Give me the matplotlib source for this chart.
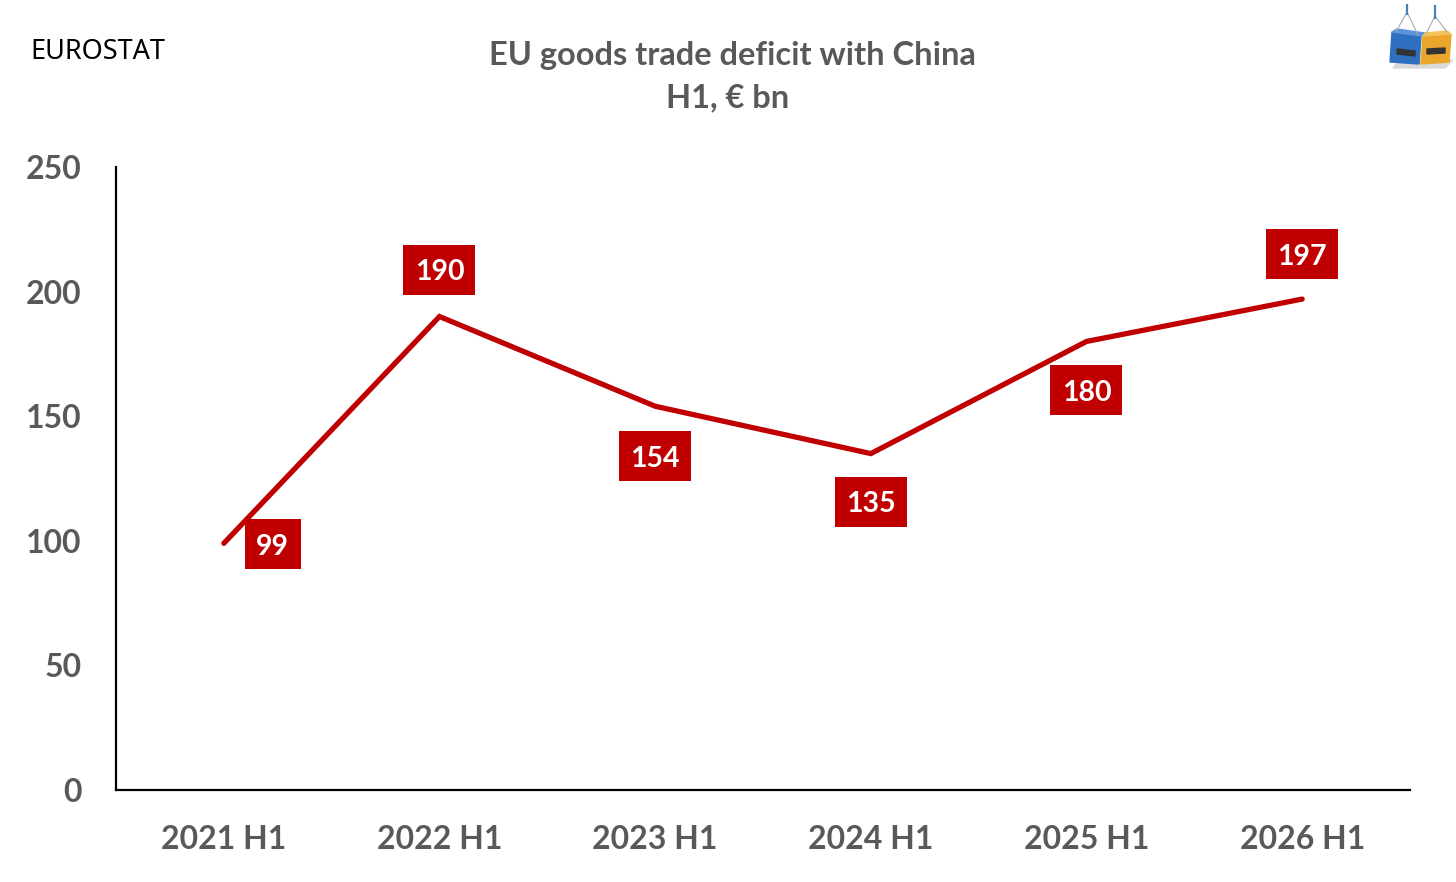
import matplotlib
matplotlib.use("Agg")
import matplotlib.pyplot as plt
from matplotlib.patches import Rectangle, Polygon
from matplotlib.transforms import Affine2D, ScaledTranslation

# ---- data ----
categories = ["2021 H1", "2022 H1", "2023 H1", "2024 H1", "2025 H1", "2026 H1"]
deficit = [99, 190, 154, 135, 180, 197]
y_ticks = [0, 50, 100, 150, 200, 250]

# ---- style ----
RED = "#C00000"
GREY = "#595959"
BOLD_FONT = ["Lato", "DejaVu Sans"]
REG_FONT = ["Noto Sans", "DejaVu Sans"]
plt.rcParams["font.family"] = BOLD_FONT

# label offsets in pixels (dx, dy) from the point, box width
label_offsets = [(49, -1, 56), (0, 47, 72), (0, -50, 72), (0, -48, 72), (0, -49, 72), (0, 45, 72)]
BOX_H = 50

W, H = 1456, 882
fig = plt.figure(figsize=(W / 100, H / 100), dpi=100)
fig.patch.set_facecolor("white")

ax_left, ax_right, ax_top, ax_bottom = 116, 1410, 167, 790
ax = fig.add_axes([ax_left / W, (H - ax_bottom) / H, (ax_right - ax_left) / W, (ax_bottom - ax_top) / H])

x = list(range(len(categories)))
ax.plot(x, deficit, color=RED, lw=3.8, solid_capstyle="round", solid_joinstyle="miter", zorder=2)

ax.set_xlim(-0.5, len(categories) - 0.5)
ax.set_ylim(0, 250)
ax.set_yticks(y_ticks)
ax.set_yticklabels([str(t) for t in y_ticks])
ax.set_xticks(x)
ax.set_xticklabels(categories)
ax.tick_params(axis="both", length=0, colors=GREY)
ax.tick_params(axis="y", pad=25, labelsize=23)
ax.tick_params(axis="x", pad=25, labelsize=23)
for lab in ax.get_xticklabels() + ax.get_yticklabels():
    lab.set_fontweight("bold")
    lab.set_color(GREY)

for s in ["top", "right"]:
    ax.spines[s].set_visible(False)
for s in ["left", "bottom"]:
    ax.spines[s].set_color("black")
    ax.spines[s].set_linewidth(1.6)

# data labels
for i, v in enumerate(deficit):
    dx, dy, bw = label_offsets[i]
    anchor = ScaledTranslation(i, v, ax.transData)
    tr = Affine2D().translate(dx, dy) + anchor
    rect = Rectangle((-bw / 2, -BOX_H / 2), bw, BOX_H, transform=tr, facecolor=RED,
                     edgecolor="none", zorder=3, clip_on=False)
    ax.add_artist(rect)
    ax.text(0, 0, str(v), transform=tr, ha="center", va="center_baseline", color="white",
            fontsize=20.5, fontweight="bold", zorder=4, clip_on=False)

# titles
fig.text(732 / W, 1 - 55 / H, "EU goods trade deficit with China", ha="center", va="center",
         fontsize=23.5, fontweight="bold", color=GREY)
fig.text(728 / W, 1 - 98 / H, "H1, € bn", ha="center", va="center",
         fontsize=23.5, fontweight="bold", color=GREY)
fig.text(30 / W, 1 - 52 / H, "EUROSTAT", ha="left", va="center", fontsize=19.5, color="black",
         family=REG_FONT)

# small logo (two containers)
lax = fig.add_axes([1385 / W, 1 - 72 / H, 70 / W, 68 / H])
lax.set_xlim(0, 70)
lax.set_ylim(0, 68)
lax.axis("off")
lax.add_patch(Polygon([[8, 4], [60, 4], [68, 12], [14, 12]], closed=True, color="#d9d9d9"))
lax.add_patch(Polygon([[5, 10], [34, 8], [36, 36], [7, 40]], closed=True, color="#2e6fc0"))
lax.add_patch(Polygon([[7, 40], [36, 36], [40, 39], [12, 43]], closed=True, color="#5a93d8"))
lax.add_patch(Polygon([[36, 8], [64, 10], [66, 38], [38, 36]], closed=True, color="#e9a62b"))
lax.add_patch(Polygon([[38, 36], [66, 38], [62, 41], [40, 39]], closed=True, color="#f3c35a"))
lax.add_patch(Polygon([[12, 18], [30, 16], [30, 21], [12, 23]], closed=True, color="#333333"))
lax.add_patch(Polygon([[42, 18], [60, 19], [60, 24], [42, 23]], closed=True, color="#333333"))
lax.plot([11, 22, 33], [40, 60, 37], color="#aaaaaa", lw=0.8)
lax.plot([41, 50, 62], [38, 56, 40], color="#aaaaaa", lw=0.8)
lax.plot([22, 22], [58, 68], color="#4a7fb8", lw=1.6)
lax.plot([50, 50], [54, 66], color="#4a7fb8", lw=1.6)

fig.savefig("out.png", dpi=100, facecolor="white")
